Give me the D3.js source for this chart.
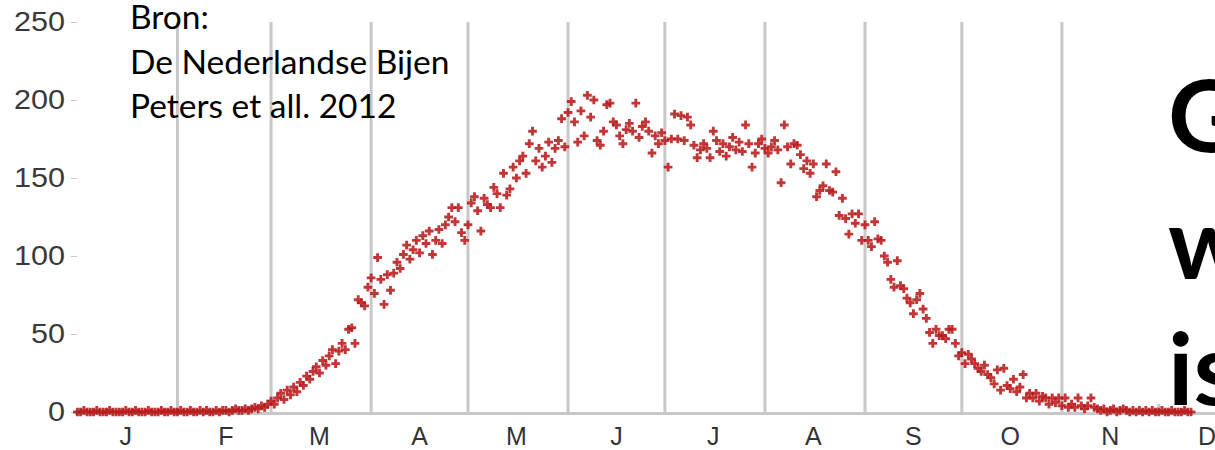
<!DOCTYPE html>
<html>
<head>
<meta charset="utf-8">
<script src="https://cdn.jsdelivr.net/npm/d3@7"></script>
<style>
    body { margin: 0; background: white; }
    svg { display: block; }
</style>
</head>
<body>
<div id="chart"></div>
<script>
// bee counts per day, starting 1 Jan 2012
const startDate = new Date(2012, 0, 1)
const counts = [
    // Jan
    0,0,1,0,0,0,1,0,0,0,1,0,0,0,0,1,0,0,1,0,0,0,1,0,0,0,1,0,0,1,0,
    // Feb
    0,1,0,0,1,0,0,1,0,1,0,0,1,0,1,1,0,1,2,1,1,2,1,2,3,2,4,3,5,
    // Mar
    7,5,9,12,8,14,11,16,13,19,17,23,21,26,29,25,33,30,36,40,31,39,44,40,53,54,44,72,70,68,80,
    // Apr
    86,76,99,85,69,88,78,89,96,92,101,107,98,104,110,102,113,108,116,101,110,117,108,120,125,131,122,131,115,110,
    // May
    120,134,138,129,116,137,133,131,144,140,131,153,139,143,157,150,161,164,153,172,180,161,169,157,164,173,160,169,174,188,170,
    // Jun
    192,199,186,173,193,177,203,189,200,174,171,180,197,198,186,184,177,172,181,185,180,198,176,183,186,180,166,177,172,179,
    // Jul
    174,157,175,191,175,190,174,189,184,171,163,168,172,169,163,180,174,167,172,164,170,176,168,173,167,184,172,157,166,172,175,
    // Aug
    169,166,170,174,168,147,184,170,159,172,171,165,156,161,153,159,138,142,145,159,142,141,154,126,137,124,114,127,121,127,110,
    // Sep
    120,110,106,122,111,110,100,96,85,80,97,81,79,73,70,63,72,76,66,60,51,44,53,49,49,47,53,53,44,36,
    // Oct
    38,31,37,34,31,28,26,30,24,22,18,27,14,28,17,15,21,13,16,24,9,12,9,12,7,10,9,5,9,6,9,
    // Nov
    4,9,3,5,3,9,4,2,4,9,3,2,1,2,0,1,2,0,1,2,1,0,1,0,1,0,1,0,1,0,
    // Dec
    0,1,0,0,1,0,0,0,1,0,0
]
const monthLabels = ["J", "F", "M", "A", "M", "J", "J", "A", "S", "O", "N", "D"]
const yTicks = [0, 50, 100, 150, 200, 250]
const sourceLines = ["Bron:", "De Nederlandse Bijen", "Peters et all. 2012"]
const bigLines = ["G", "w", "is"]

function drawChart() {
    let width = 1215, height = 450

    let svg = d3.select("#chart").append("svg")
        .attr("width", width)
        .attr("height", height)

    let x = d3.scaleTime()
        .domain([startDate, new Date(2013, 0, 1)])
        .range([77.4, 1258.8])

    let y = d3.scaleLinear()
        .domain([0, 250])
        .range([412, 22])

    let points = counts.map((v, i) => ({ date: d3.timeDay.offset(startDate, i), value: v }))

    // vertical month gridlines
    let monthStarts = d3.timeMonth.range(new Date(2012, 1, 1), new Date(2013, 0, 1))
    svg.append("g").selectAll("line")
        .data(monthStarts)
        .enter().append("line")
        .attr("x1", d => x(d))
        .attr("x2", d => x(d))
        .attr("y1", y(250))
        .attr("y2", y(0))
        .attr("stroke", "#c8c8c8")
        .attr("stroke-width", 3)

    // baseline
    svg.append("line")
        .attr("x1", 75).attr("x2", width)
        .attr("y1", y(0) + 1.5).attr("y2", y(0) + 1.5)
        .attr("stroke", "#c8c8c8")
        .attr("stroke-width", 3)

    // y axis
    let yAxis = svg.append("g")
        .attr("transform", "translate(77,0)")
        .call(d3.axisLeft(y).tickValues(yTicks).tickSize(6).tickPadding(6))
    yAxis.select(".domain").remove()
    yAxis.selectAll(".tick line").attr("stroke", "#c8c8c8")
    yAxis.selectAll(".tick text")
        .attr("fill", "#3a3a3a")
        .style("font-family", "Liberation Sans, Arial, sans-serif")
        .style("font-size", "27px")
        .attr("textLength", d => String(d).length * 17)
        .attr("lengthAdjust", "spacingAndGlyphs")

    // month letters centred in each month
    let monthMids = d3.range(12).map(m => new Date(2012, m, 16))
    svg.append("g").selectAll("text")
        .data(monthMids)
        .enter().append("text")
        .attr("x", d => x(d))
        .attr("y", 445)
        .attr("text-anchor", "middle")
        .attr("fill", "#333")
        .style("font-family", "Liberation Sans, Arial, sans-serif")
        .style("font-size", "25px")
        .text((d, i) => monthLabels[i])

    // daily points
    let cross = d3.symbol().type(d3.symbolCross).size(42)
    svg.append("g").selectAll("path")
        .data(points)
        .enter().append("path")
        .attr("transform", d => `translate(${x(d.date)},${y(d.value)})`)
        .attr("d", cross)
        .attr("fill", "#b81b1d")
        .attr("fill-opacity", 0.88)

    // source text
    svg.append("g").selectAll("text")
        .data(sourceLines)
        .enter().append("text")
        .attr("x", 130)
        .attr("y", (d, i) => 29 + i * 44.5)
        .attr("fill", "#000")
        .style("font-family", "Lato, Open Sans, sans-serif")
        .style("font-size", "33.5px")
        .text(d => d)

    // big text on the right, on a white box
    svg.append("rect")
        .attr("x", 1150).attr("y", 0)
        .attr("width", 70).attr("height", 404)
        .attr("fill", "white")
    svg.append("g").selectAll("text")
        .data(bigLines)
        .enter().append("text")
        .attr("x", 1168)
        .attr("y", (d, i) => 152 + i * 126.5)
        .attr("fill", "#000")
        .style("font-family", "Lato, Open Sans, sans-serif")
        .style("font-weight", "bold")
        .style("font-size", "100px")
        .text(d => d)
}

drawChart()
</script>
</body>
</html>
